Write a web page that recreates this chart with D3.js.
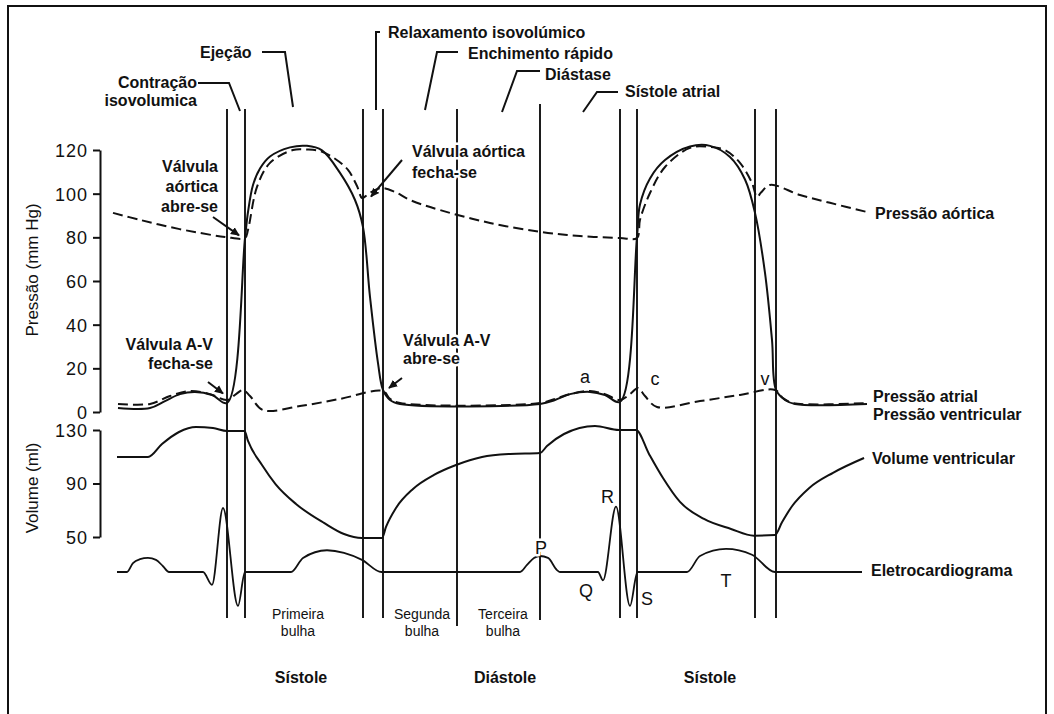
<!DOCTYPE html>
<html>
<head>
<meta charset="utf-8">
<script src="https://cdn.jsdelivr.net/npm/d3@7"></script>
<style>
  body { margin: 0; background: #fff; }
  svg { font-family: "Liberation Sans", Arial, sans-serif; }
  .curve { fill: none; stroke: #111; stroke-width: 2; stroke-linejoin: round; }
  .dash { stroke-dasharray: 10,5; }
  .axis path, .axis line { stroke: #111; stroke-width: 2; }
  .axis text { font-size: 18px; letter-spacing: 1px; fill: #111; }
  .lbl { fill: #111; font-weight: bold; font-size: 16px; }
  .halo { paint-order: stroke; stroke: #fff; stroke-width: 5px; stroke-linejoin: round; }
</style>
</head>
<body>
<div id="chart"></div>
<script>
// time in ms, pressure in mm Hg, volume in ml, ECG in mV (arbitrary)
var eventTimes = [254, 290, 526, 566, 714, 880, 1040, 1074, 1310, 1352];

var pressureTicks = [0, 20, 40, 60, 80, 100, 120];
var volumeTicks = [50, 90, 130];

var aorticPressure = [
  [26, 91.2], [80, 88.0], [140, 84.7], [200, 82.0], [250, 80.2], [290, 79.7],
  [296, 83.4], [314, 103.1], [340, 114.1], [386, 120.0], [414, 120.2], [440, 119.5],
  [470, 116.0], [496, 110.9], [514, 103.5], [524, 98.0], [532, 99.0], [546, 101.2],
  [564, 102.6], [590, 100.8], [620, 97.1], [680, 92.5], [780, 86.6], [880, 82.5],
  [960, 80.6], [1040, 79.7], [1074, 79.7], [1080, 88.0], [1100, 100.3], [1130, 112.2],
  [1180, 121.0], [1220, 121.4], [1250, 120.0], [1280, 114.1], [1304, 104.9], [1314, 98.5],
  [1322, 100.5], [1340, 104.0], [1400, 99.4], [1460, 95.8], [1534, 91.6]
];

var ventricularPressure = [
  [36, 1.8], [100, 1.8], [130, 5.0], [160, 8.2], [190, 9.2], [224, 7.8], [254, 4.1],
  [290, 79.7], [296, 91.6], [306, 104.0], [320, 111.5], [340, 117.0], [380, 121.2],
  [414, 121.9], [444, 119.8], [480, 109.5], [510, 97.1], [526, 84.7], [540, 52.7],
  [556, 22.4], [566, 10.1], [580, 5.5], [600, 3.7], [880, 3.7], [910, 5.5], [940, 8.2],
  [980, 9.2], [1010, 7.8], [1040, 4.6], [1074, 80.2], [1080, 95.0], [1100, 107.0],
  [1130, 115.4], [1180, 121.6], [1220, 121.9], [1260, 116.8], [1290, 106.5], [1310, 91.2],
  [1330, 63.7], [1344, 33.0], [1352, 10.1], [1370, 5.5], [1390, 3.7], [1534, 3.7]
];

var atrialPressure = [
  [36, 3.7], [100, 3.7], [140, 7.3], [180, 9.6], [220, 8.2], [254, 5.5], [272, 8.2],
  [286, 10.1], [300, 7.3], [326, 0.9], [400, 2.7], [480, 6.0], [566, 9.6], [580, 6.0],
  [600, 4.1], [880, 4.1], [910, 6.0], [940, 8.2], [980, 9.6], [1010, 8.2], [1040, 5.5],
  [1060, 8.2], [1076, 11.0], [1090, 7.3], [1114, 2.3], [1200, 5.0], [1280, 7.8],
  [1350, 10.1], [1366, 6.4], [1386, 4.1], [1534, 4.1]
];

var ventricularVolume = [
  [34, 109.8], [96, 109.8], [124, 119.5], [158, 128.5], [192, 132.2], [226, 131.5],
  [254, 129.3], [289, 129.3], [296, 121.8], [324, 103.8], [351, 89.6], [392, 74.7],
  [448, 60.5], [488, 52.2], [524, 49.2], [564, 49.2], [572, 57.5], [592, 71.7],
  [626, 85.9], [668, 96.4], [712, 103.8], [764, 109.8], [820, 112.1], [880, 112.8],
  [894, 118.0], [928, 127.0], [990, 133.0], [1038, 130.0], [1072, 130.0], [1098, 112.1],
  [1126, 94.1], [1160, 76.2], [1208, 63.5], [1262, 56.0], [1308, 51.0], [1350, 51.5],
  [1364, 61.0], [1384, 73.0], [1418, 86.5], [1466, 98.0], [1528, 109.1]
];

var ecg = [
  [34, 0], [54, 0], [66, 0.14], [80, 0.2], [96, 0.22], [112, 0.19], [126, 0.09], [138, 0],
  [206, 0], [224, -0.2], [246, 1.0], [276, -0.53], [290, 0], [382, 0], [406, 0.22],
  [454, 0.34], [488, 0.3], [524, 0.19], [563, 0], [840, 0], [854, 0.11], [868, 0.22],
  [880, 0.25], [896, 0.22], [914, 0.03], [920, 0], [996, 0], [1006, -0.13], [1032, 1.02],
  [1060, -0.53], [1075, 0], [1174, 0], [1200, 0.25], [1252, 0.36], [1304, 0.27],
  [1350, 0], [1524, 0]
];

var phaseNames = ["Contração", "isovolumica", "Ejeção", "Relaxamento isovolúmico",
  "Enchimento rápido", "Diástase", "Sístole atrial"];
var seriesNames = ["Pressão aórtica", "Pressão atrial", "Pressão ventricular",
  "Volume ventricular", "Eletrocardiograma"];
var ecgWaves = ["P", "Q", "R", "S", "T"];
var pressureWaves = ["a", "c", "v"];
var heartSounds = [["Primeira", "bulha"], ["Segunda", "bulha"], ["Terceira", "bulha"]];
var periods = ["Sístole", "Diástole", "Sístole"];

function draw() {
  var width = 1054, height = 714;

  var x = d3.scaleLinear().domain([0, 1800]).range([100, 1000]);
  var yP = d3.scaleLinear().domain([0, 120]).range([412, 150]);
  var yV = d3.scaleLinear().domain([50, 130]).range([537, 430]);
  var yE = d3.scaleLinear().domain([0, 1]).range([572, 508]);

  var svg = d3.select("#chart")
    .append("svg")
      .attr("width", width)
      .attr("height", height);

  var defs = svg.append("defs");
  defs.append("marker")
      .attr("id", "arrow")
      .attr("viewBox", "0 -5 10 10")
      .attr("refX", 9)
      .attr("refY", 0)
      .attr("markerWidth", 9)
      .attr("markerHeight", 9)
      .attr("markerUnits", "userSpaceOnUse")
      .attr("orient", "auto")
    .append("path")
      .attr("d", "M0,-4.5L10,0L0,4.5Z")
      .style("fill", "#111");

  // frame
  svg.append("path")
      .attr("d", "M8,714V6H1046V714")
      .style("fill", "none")
      .style("stroke", "#111")
      .style("stroke-width", 2);

  // event lines
  svg.selectAll("line.event")
      .data(eventTimes)
    .enter().append("line")
      .attr("class", "event")
      .attr("x1", function(d) { return x(d); })
      .attr("x2", function(d) { return x(d); })
      .attr("y1", function(d) { return d === 880 ? 104 : 109; })
      .attr("y2", function(d) { return d === 714 ? 626 : (d === 880 ? 620 : 618); })
      .style("stroke", "#111")
      .style("stroke-width", 1.9);

  // axes
  svg.append("g")
      .attr("class", "axis")
      .attr("transform", "translate(100,0)")
      .call(d3.axisLeft(yP).tickValues(pressureTicks).tickSize(7).tickSizeOuter(0).tickPadding(5));

  svg.append("g")
      .attr("class", "axis")
      .attr("transform", "translate(100,0)")
      .call(d3.axisLeft(yV).tickValues(volumeTicks).tickSize(7).tickSizeOuter(0).tickPadding(5));

  svg.selectAll(".axis text").attr("dy", "0.36em");

  svg.append("text")
      .attr("transform", "translate(38,270) rotate(-90)")
      .style("text-anchor", "middle")
      .style("font-size", "17px")
      .style("fill", "#111")
      .text("Pressão (mm Hg)");

  svg.append("text")
      .attr("transform", "translate(38,488) rotate(-90)")
      .style("text-anchor", "middle")
      .style("font-size", "17px")
      .style("fill", "#111")
      .text("Volume (ml)");

  // curves
  var lineP = d3.line()
      .x(function(d) { return x(d[0]); })
      .y(function(d) { return yP(d[1]); })
      .curve(d3.curveCatmullRom.alpha(0.5));
  var lineV = d3.line()
      .x(function(d) { return x(d[0]); })
      .y(function(d) { return yV(d[1]); })
      .curve(d3.curveMonotoneX);
  var lineE = d3.line()
      .x(function(d) { return x(d[0]); })
      .y(function(d) { return yE(d[1]); })
      .curve(d3.curveMonotoneX);

  svg.append("path").attr("class", "curve").attr("d", lineP(ventricularPressure));
  svg.append("path").attr("class", "curve dash").attr("d", lineP(aorticPressure));
  svg.append("path").attr("class", "curve dash").attr("d", lineP(atrialPressure));
  svg.append("path").attr("class", "curve").attr("d", lineV(ventricularVolume));
  svg.append("path").attr("class", "curve").style("stroke-width", 1.8).attr("d", lineE(ecg));

  // phase annotations with leader lines
  var leaders = [
    [[198, 83], [229, 83], [240, 111]],
    [[262, 52], [285, 52], [293, 107]],
    [[380, 32], [376, 32], [376, 110]],
    [[458, 52], [437, 52], [425, 110]],
    [[540, 71], [517, 71], [502, 112]],
    [[618, 92], [597, 92], [583, 112]]
  ];
  svg.selectAll("path.leader")
      .data(leaders)
    .enter().append("path")
      .attr("class", "leader")
      .attr("d", d3.line())
      .style("fill", "none")
      .style("stroke", "#111")
      .style("stroke-width", 2);

  var phaseText = [
    { t: phaseNames[0], x: 197, y: 88, a: "end" },
    { t: phaseNames[1], x: 197, y: 106, a: "end" },
    { t: phaseNames[2], x: 200, y: 58, a: "start" },
    { t: phaseNames[3], x: 388, y: 38, a: "start" },
    { t: phaseNames[4], x: 468, y: 59, a: "start" },
    { t: phaseNames[5], x: 545, y: 80, a: "start" },
    { t: phaseNames[6], x: 625, y: 97, a: "start" }
  ];
  svg.selectAll("text.phase")
      .data(phaseText)
    .enter().append("text")
      .attr("class", "phase lbl")
      .attr("x", function(d) { return d.x; })
      .attr("y", function(d) { return d.y; })
      .style("text-anchor", function(d) { return d.a; })
      .text(function(d) { return d.t; });

  // valve annotations
  function multi(lines, px, py, anchor, step) {
    var t = svg.append("text")
        .attr("class", "lbl halo")
        .style("text-anchor", anchor);
    lines.forEach(function(s, i) {
      t.append("tspan").attr("x", px).attr("y", py + i * step).text(s);
    });
  }
  multi(["Válvula", "aórtica", "abre-se"], 218, 172, "end", 20);
  multi(["Válvula aórtica", "fecha-se"], 412, 157, "start", 21);
  multi(["Válvula A-V", "fecha-se"], 213, 350, "end", 19);
  multi(["Válvula A-V", "abre-se"], 403, 346, "start", 18);

  var arrows = [
    [[213, 217], [x(eventTimes[1]) - 6, yP(80) - 2]],
    [[402, 160], [x(eventTimes[2]) + 8, yP(100) + 3]],
    [[208, 382], [x(eventTimes[0]) - 4, yP(8.5)]],
    [[402, 378], [x(eventTimes[3]) + 6, yP(11)]]
  ];
  svg.selectAll("path.arrow")
      .data(arrows)
    .enter().append("path")
      .attr("class", "arrow")
      .attr("d", d3.line())
      .attr("marker-end", "url(#arrow)")
      .style("fill", "none")
      .style("stroke", "#111")
      .style("stroke-width", 2);

  // pressure wave letters
  var pw = [[970, 13.5], [1110, 12.5], [1330, 12.5]];
  svg.selectAll("text.pw")
      .data(pressureWaves)
    .enter().append("text")
      .attr("class", "pw")
      .attr("x", function(d, i) { return x(pw[i][0]); })
      .attr("y", function(d, i) { return yP(pw[i][1]); })
      .style("text-anchor", "middle")
      .style("font-size", "18px")
      .style("fill", "#111")
      .text(function(d) { return d; });

  // ECG wave letters
  var ew = [[882, 0.28], [972, -0.39], [1015, 1.08], [1094, -0.52], [1252, -0.23]];
  svg.selectAll("text.ew")
      .data(ecgWaves)
    .enter().append("text")
      .attr("class", function(d) { return d === "P" ? "ew halo" : "ew"; })
      .attr("x", function(d, i) { return x(ew[i][0]); })
      .attr("y", function(d, i) { return yE(ew[i][1]); })
      .style("text-anchor", "middle")
      .style("font-size", "18px")
      .style("fill", "#111")
      .text(function(d) { return d; });

  // series labels on the right
  var sl = [[875, 219], [873, 402], [873, 420], [872, 464], [871, 576]];
  svg.selectAll("text.series")
      .data(seriesNames)
    .enter().append("text")
      .attr("class", "series lbl")
      .attr("x", function(d, i) { return sl[i][0]; })
      .attr("y", function(d, i) { return sl[i][1]; })
      .text(function(d) { return d; });

  // heart sounds
  var hs = [396, 644, 806];
  heartSounds.forEach(function(s, i) {
    var t = svg.append("text")
        .style("text-anchor", "middle")
        .style("font-size", "14px")
        .style("fill", "#111");
    s.forEach(function(w, j) {
      t.append("tspan").attr("x", x(hs[i])).attr("y", 619 + j * 17).text(w);
    });
  });

  // cycle periods
  var pp = [402, 810, 1220];
  svg.selectAll("text.period")
      .data(periods)
    .enter().append("text")
      .attr("class", "period lbl")
      .attr("x", function(d, i) { return x(pp[i]); })
      .attr("y", 683)
      .style("text-anchor", "middle")
      .text(function(d) { return d; });
}
draw();
</script>
</body>
</html>
